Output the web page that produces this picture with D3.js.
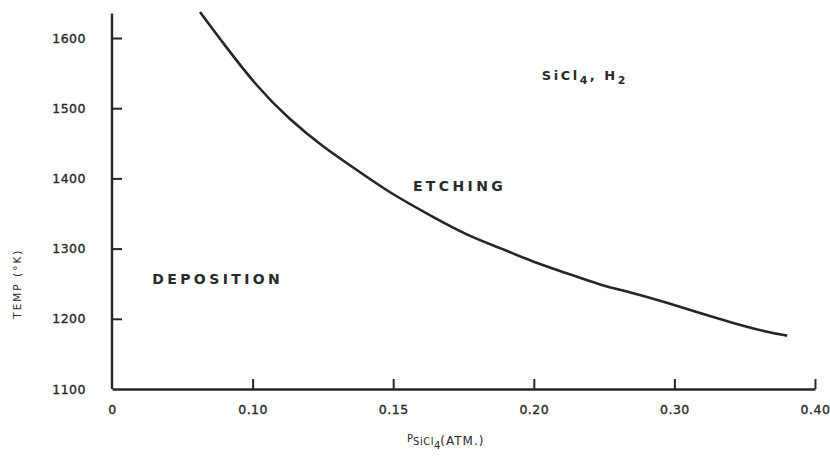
<!DOCTYPE html>
<html>
<head>
<meta charset="utf-8">
<script src="https://cdn.jsdelivr.net/npm/d3@7"></script>
<style>
  body { margin: 0; background: #fff; }
  svg { display: block; }
  text { font-family: "DejaVu Sans", "Liberation Sans", sans-serif; fill: #2a2a2a; }
</style>
</head>
<body>
<div id="main"></div>
<script>
// x ticks are evenly spaced on the page even though the values are not
const xTicks = [0, 0.10, 0.15, 0.20, 0.30, 0.40];
const xTickLabels = ["0", "0.10", "0.15", "0.20", "0.30", "0.40"];
const yTicks = [1100, 1200, 1300, 1400, 1500, 1600];

// boundary curve
const pressure = [0.0626, 0.0789, 0.1016, 0.1133, 0.1250, 0.1371, 0.1489, 0.1642, 0.1762, 0.1880,
                  0.1997, 0.2236, 0.2471, 0.2706, 0.2947, 0.3182, 0.3417, 0.3659, 0.3802];
const temp     = [1637, 1593, 1530, 1483, 1445, 1412, 1379, 1345, 1319, 1301,
                  1281, 1265, 1248, 1237, 1223, 1208, 1194, 1181, 1176];

// region labels: [text, pressure, temp]
const regionLabels = [
    ["DEPOSITION", 0.0286, 1257],
    ["ETCHING", 0.157, 1389]
];

const width = 830, height = 464;
const svg = d3.select("#main").append("svg")
    .attr("width", width)
    .attr("height", height);

const x = d3.scaleLinear()
    .domain(xTicks)
    .range(xTicks.map((d, i) => 112 + i * 140.6));
const y = d3.scaleLinear()
    .domain([1100, 1600])
    .range([389, 38]);

const ink = "#262626";

// x axis, ticks pointing up into the plot
const xAxis = svg.append("g")
    .attr("transform", `translate(0,${y(1100)})`)
    .call(d3.axisBottom(x)
        .tickValues(xTicks)
        .tickFormat((d, i) => xTickLabels[i])
        .tickSizeInner(-10)
        .tickSizeOuter(0)
        .tickPadding(16));
xAxis.select(".domain").attr("stroke", ink).attr("stroke-width", 2.4);
xAxis.selectAll(".tick line").attr("stroke", ink).attr("stroke-width", 2);
xAxis.selectAll(".tick text")
    .attr("font-size", 12.5)
    .attr("letter-spacing", 0.5)
    .attr("fill", ink)
    .attr("stroke", ink)
    .attr("stroke-width", 0.35);
// the zero tick is not drawn, it is the corner of the axes
xAxis.selectAll(".tick").filter(d => d === 0).select("line").remove();

// y axis, ticks pointing right
const yAxis = svg.append("g")
    .attr("transform", `translate(${x(0)},0)`)
    .call(d3.axisLeft(y)
        .tickValues(yTicks)
        .tickFormat(d3.format("d"))
        .tickSizeInner(-10)
        .tickSizeOuter(0)
        .tickPadding(26));
yAxis.select(".domain")
    .attr("d", `M0,${y(1100)}V${y(1635)}`)
    .attr("stroke", ink).attr("stroke-width", 2.4);
yAxis.selectAll(".tick line").attr("stroke", ink).attr("stroke-width", 2);
yAxis.selectAll(".tick").filter(d => d === 1100).select("line").remove();
yAxis.selectAll(".tick text")
    .attr("font-size", 12.5)
    .attr("letter-spacing", 0.5)
    .attr("fill", ink)
    .attr("stroke", ink)
    .attr("stroke-width", 0.35);

// axis titles
svg.append("text")
    .attr("transform", `translate(21,${y(1250)}) rotate(-90)`)
    .attr("text-anchor", "middle")
    .attr("font-size", 10.5)
    .attr("letter-spacing", 2)
    .text("TEMP (°K)");

const xTitle = svg.append("text")
    .attr("x", 407)
    .attr("y", 445)
    .attr("font-size", 12);
xTitle.append("tspan").attr("font-size", 10).attr("dy", -3).text("P");
xTitle.append("tspan").attr("font-size", 10).attr("dy", 3).attr("letter-spacing", 0.5).text("SiCl");
xTitle.append("tspan").attr("font-size", 10).attr("dy", 4).text("4");
xTitle.append("tspan").attr("font-size", 12).attr("dy", -4).attr("letter-spacing", 1).text("(ATM.)");

// boundary curve, smoothed through the read points
const line = d3.line()
    .curve(d3.curveBasis)
    .x(d => x(d[0]))
    .y(d => y(d[1]));
svg.append("path")
    .datum(d3.zip(pressure, temp))
    .attr("d", line)
    .attr("fill", "none")
    .attr("stroke", ink)
    .attr("stroke-width", 2.6);

// region labels
svg.append("g")
    .selectAll("text")
    .data(regionLabels)
    .enter()
    .append("text")
    .attr("x", d => x(d[1]))
    .attr("y", d => y(d[2]) + 5)
    .attr("font-size", 14)
    .attr("font-weight", "bold")
    .attr("letter-spacing", 3.4)
    .text(d => d[0]);

// gas mixture label
const gas = svg.append("text")
    .attr("x", x(0.2057))
    .attr("y", y(1547) + 5)
    .attr("font-size", 13)
    .attr("font-weight", "bold")
    .attr("letter-spacing", 2.5);
gas.append("tspan").text("SiCl");
gas.append("tspan").attr("font-size", 11).attr("dy", 4).text("4");
gas.append("tspan").attr("dy", -4).text(", H");
gas.append("tspan").attr("font-size", 11).attr("dy", 4).text("2");
</script>
</body>
</html>
